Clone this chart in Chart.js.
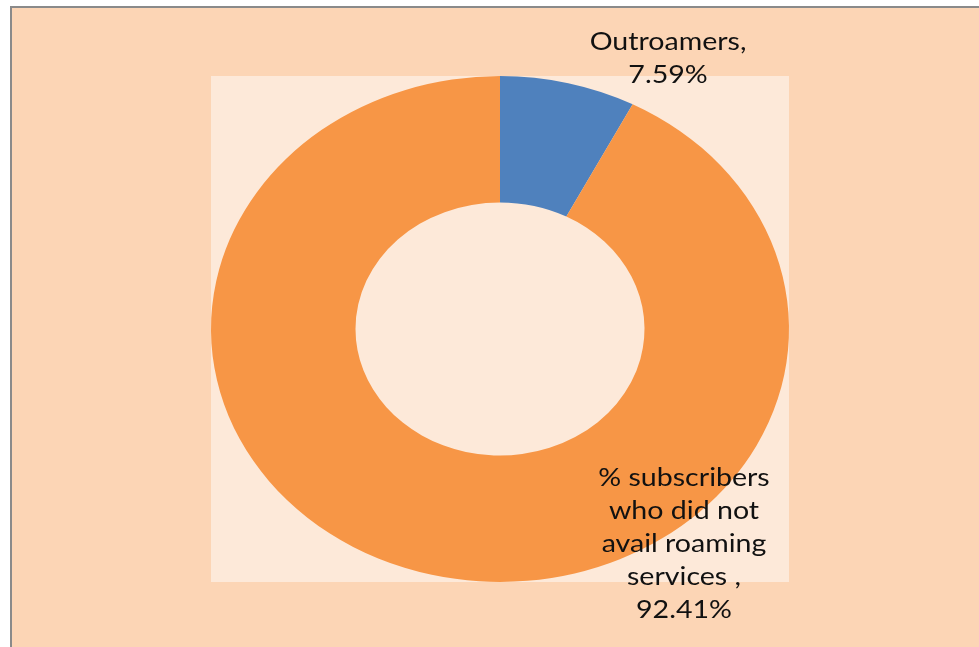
<!DOCTYPE html>
<html>
<head>
<meta charset="utf-8">
<script src="https://cdn.jsdelivr.net/npm/chart.js@4"></script>
<style>
  html, body { margin: 0; padding: 0; background: #ffffff; }
  #wrap { width: 979px; height: 647px; position: relative; }
</style>
</head>
<body>
<div id="wrap"><canvas id="c" width="979" height="647"></canvas></div>
<script>
// Roaming usage share
const categories = ['Outroamers', '% subscribers who did not avail roaming services '];
const shares = [7.59, 92.41];
const sliceColors = ['#4F81BD', '#F79646'];
// label lines per slice (value appended as last line)
const labelLines = [
  ['Outroamers,'],
  ['% subscribers', 'who did not', 'avail roaming', 'services ,']
];

const FONT = '25px Lato, "Noto Sans", sans-serif';
const STRETCH_X = 289 / 253; // horizontal stretch of the whole drawing

// Frame, outer fill and plot-area fill
const backgroundPlugin = {
  id: 'frameBg',
  beforeDraw(chart) {
    const { ctx, chartArea: a } = chart;
    ctx.save();
    ctx.fillStyle = '#ffffff';
    ctx.fillRect(0, 0, chart.width, chart.height);
    ctx.fillStyle = '#8a8a8a';
    ctx.fillRect(10, 6, chart.width - 10, chart.height - 6);
    ctx.fillStyle = '#FCD5B5';
    ctx.fillRect(12, 8, chart.width - 12, chart.height - 8);
    ctx.fillStyle = '#FDE9D9';
    ctx.fillRect(a.left, a.top, a.right - a.left, a.bottom - a.top);
    ctx.restore();
  }
};

// Stretch the ring horizontally so it fills the plot area
const stretchPlugin = {
  id: 'stretch',
  beforeDatasetsDraw(chart) {
    const { ctx, chartArea: a } = chart;
    const cx = (a.left + a.right) / 2;
    ctx.save();
    ctx.translate(cx, 0);
    ctx.scale(STRETCH_X, 1);
    ctx.translate(-cx, 0);
  },
  afterDatasetsDraw(chart) {
    chart.ctx.restore();
  }
};

// Category + value labels
const labelPlugin = {
  id: 'sliceLabels',
  afterDraw(chart) {
    const { ctx, chartArea: a } = chart;
    const cx = (a.left + a.right) / 2;
    const cy = (a.top + a.bottom) / 2;
    const vals = chart.data.datasets[0].data;
    const anchors = [
      { x: cx + 168, y: cy - 287 },
      { x: cx + 184, y: cy + 149 }
    ];
    const lineH = 33;
    ctx.save();
    ctx.font = FONT;
    ctx.fillStyle = '#111111';
    ctx.textAlign = 'center';
    ctx.textBaseline = 'middle';
    vals.forEach((v, i) => {
      const lines = labelLines[i].concat([v.toFixed(2) + '%']);
      lines.forEach((t, j) => {
        ctx.save();
        ctx.translate(anchors[i].x, anchors[i].y + j * lineH);
        ctx.scale(STRETCH_X, 1);
        ctx.fillText(t, 0, 0);
        ctx.restore();
      });
    });
    ctx.restore();
  }
};

new Chart(document.getElementById('c'), {
  type: 'doughnut',
  data: {
    labels: categories,
    datasets: [{
      data: shares,
      backgroundColor: sliceColors,
      borderWidth: 0
    }]
  },
  options: {
    responsive: false,
    animation: false,
    cutout: '50%',
    layout: { padding: { left: 211, top: 76, right: 190, bottom: 65 } },
    plugins: {
      legend: { display: false },
      tooltip: { enabled: false }
    }
  },
  plugins: [backgroundPlugin, stretchPlugin, labelPlugin]
});
</script>
</body>
</html>
